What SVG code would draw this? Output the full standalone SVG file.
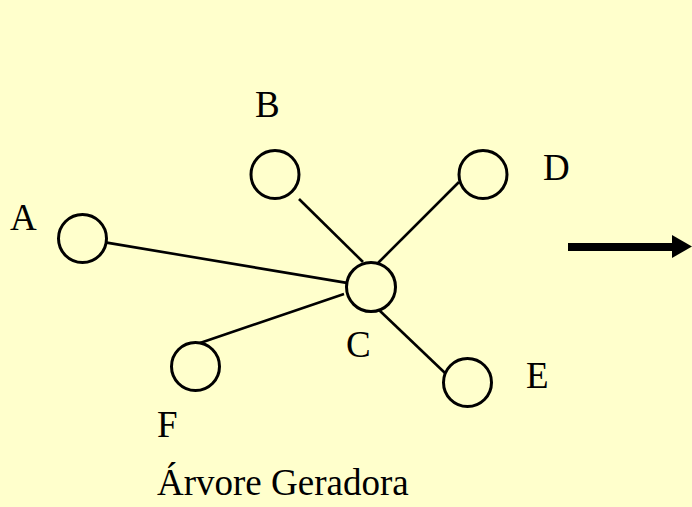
<svg xmlns="http://www.w3.org/2000/svg" width="692" height="507" viewBox="0 0 692 507">
  <style>
    .node { fill: none; stroke: #000; stroke-width: 3; }
    .edge { stroke: #000; stroke-width: 2.6; fill: none; }
    .lbl { font-family: "Liberation Serif", "Times New Roman", serif; font-size: 37px; fill: #000; }
  </style>
  <rect x="0" y="0" width="692" height="507" fill="#FFFFCC"/>

  <g id="edges">
    <line class="edge" x1="106.7" y1="242.6" x2="346.8" y2="282.9"/>
    <line class="edge" x1="200" y1="343" x2="344" y2="294"/>
    <line class="edge" x1="299" y1="199" x2="363" y2="262"/>
    <line class="edge" x1="459" y1="182" x2="378" y2="263"/>
    <line class="edge" x1="379" y1="310" x2="445" y2="373"/>
  </g>

  <g id="node-A">
    <circle class="node" cx="82.5" cy="238.5" r="24"/>
    <text class="lbl" x="10" y="230">A</text>
  </g>
  <g id="node-B">
    <circle class="node" cx="275" cy="174.5" r="24"/>
    <text class="lbl" x="255" y="117">B</text>
  </g>
  <g id="node-D">
    <circle class="node" cx="483" cy="174.5" r="24"/>
    <text class="lbl" x="543" y="180">D</text>
  </g>
  <g id="node-C">
    <circle class="node" cx="371" cy="287" r="24.5"/>
    <text class="lbl" x="346" y="357">C</text>
  </g>
  <g id="node-F">
    <circle class="node" cx="195.5" cy="366.5" r="24"/>
    <text class="lbl" x="157" y="437">F</text>
  </g>
  <g id="node-E">
    <circle class="node" cx="467.5" cy="382.5" r="24"/>
    <text class="lbl" x="526" y="388">E</text>
  </g>
  <g id="caption">
    <text class="lbl" x="157" y="495">Árvore Geradora</text>
  </g>

  <g id="arrow">
    <rect x="568" y="243" width="106" height="8" fill="#000"/>
    <polygon points="672,235 692,246.5 672,258" fill="#000"/>
  </g>
</svg>
